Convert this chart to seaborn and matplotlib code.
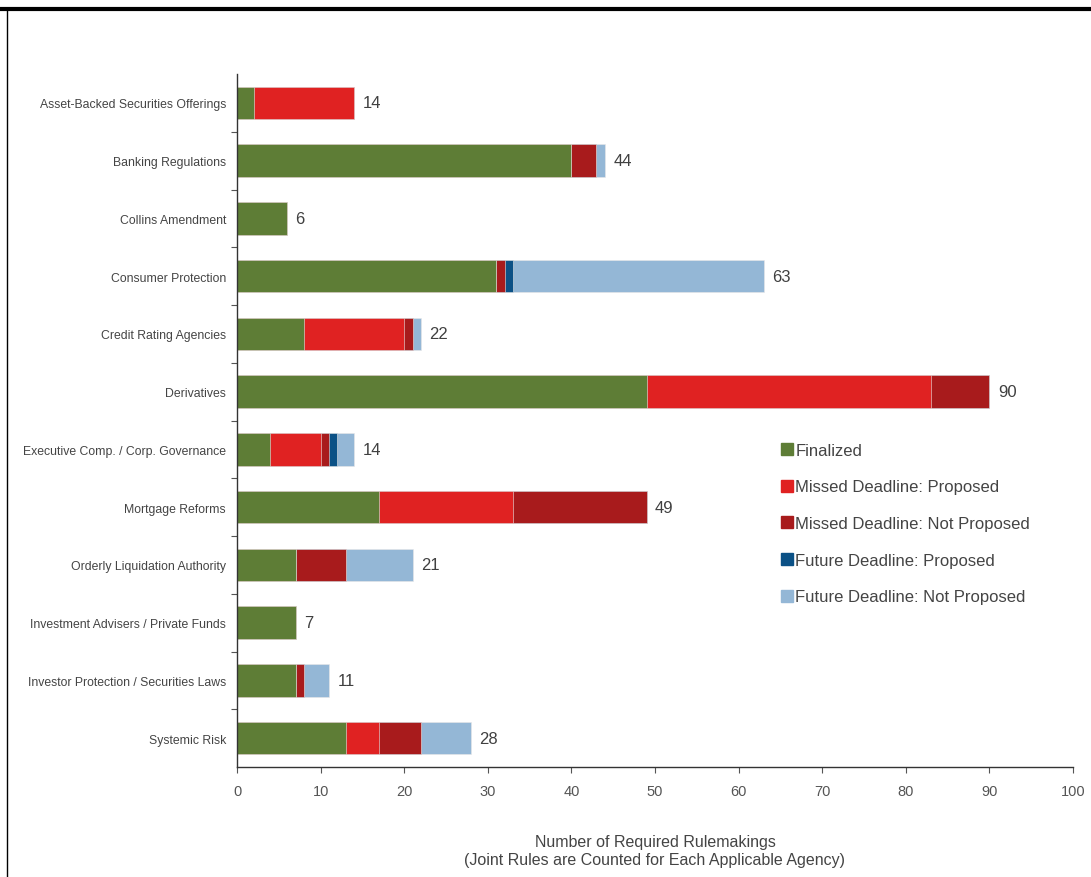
import matplotlib
matplotlib.use("Agg")
import matplotlib.pyplot as plt
import seaborn as sns
import numpy as np
import pandas as pd
from matplotlib.lines import Line2D

categories = [
    "Asset-Backed Securities Offerings",
    "Banking Regulations",
    "Collins Amendment",
    "Consumer Protection",
    "Credit Rating Agencies",
    "Derivatives",
    "Executive Comp. / Corp. Governance",
    "Mortgage Reforms",
    "Orderly Liquidation Authority",
    "Investment Advisers / Private Funds",
    "Investor Protection / Securities Laws",
    "Systemic Risk",
]
finalized          = [2, 40, 6, 31, 8, 49, 4, 17, 7, 7, 7, 13]
missed_proposed    = [12, 0, 0, 0, 12, 34, 6, 16, 0, 0, 0, 4]
missed_not_prop    = [0, 3, 0, 1, 1, 7, 1, 16, 6, 0, 1, 5]
future_proposed    = [0, 0, 0, 1, 0, 0, 1, 0, 0, 0, 0, 0]
future_not_prop    = [0, 1, 0, 30, 1, 0, 2, 0, 8, 0, 3, 6]
series_names = ["Finalized", "Missed Deadline: Proposed", "Missed Deadline: Not Proposed",
                "Future Deadline: Proposed", "Future Deadline: Not Proposed"]
colors = ["#5e7d36", "#e02222", "#a81b1c", "#0b5186", "#94b7d6"]

sns.set_theme(style="white")
plt.rcParams["font.family"] = ["Liberation Sans", "DejaVu Sans"]

fig = plt.figure(figsize=(10.91, 8.78), dpi=100)
ax = fig.add_axes([237/1091, 1 - 768/878, (1073-237)/1091, (768-75)/878])

data = np.array([finalized, missed_proposed, missed_not_prop, future_proposed, future_not_prop])
cum = np.cumsum(data, axis=0)
for i in range(4, -1, -1):
    df = pd.DataFrame({"cat": categories, "val": cum[i]})
    sns.barplot(data=df, x="val", y="cat", color=colors[i], width=0.56,
                saturation=1, ax=ax, orient="h", linewidth=0.4, edgecolor="#e8e8e8")

totals = cum[-1]
for j, t in enumerate(totals):
    ax.text(t + 1.0, j, f"{t}", va="center", ha="left", fontsize=12, color="#404040")

ax.set_xlim(0, 100)
ax.set_ylim(11.5, -0.5)
ax.set_xticks(np.arange(0, 101, 10))
ax.set_xticklabels([str(v) for v in range(0, 101, 10)], fontsize=10.5, color="#555555")
ax.set_yticks(range(len(categories)))
ax.set_yticklabels(categories, fontsize=8.8, color="#444444")
ax.set_yticks(np.arange(0.5, 11.5, 1), minor=True)
ax.tick_params(axis="y", which="major", length=0, pad=8)
ax.tick_params(axis="y", which="minor", length=4, direction="out", color="#555555", width=0.8, left=True)
ax.tick_params(axis="x", which="major", length=4, direction="out", color="#555555", width=0.8, bottom=True, pad=8)
ax.set_ylabel("")
ax.set_xlabel("Number of Required Rulemakings\n(Joint Rules are Counted for Each Applicable Agency)",
              fontsize=11.5, color="#444444", labelpad=26, linespacing=1.25)
for s in ["top", "right"]:
    ax.spines[s].set_visible(False)
for s in ["left", "bottom"]:
    ax.spines[s].set_color("#333333")
    ax.spines[s].set_linewidth(1.0)

handles = [Line2D([0], [0], marker="s", linestyle="", markersize=8, markerfacecolor=c,
                  markeredgecolor=c) for c in colors]
leg = fig.legend(handles, series_names, loc="upper left", bbox_to_anchor=(772/1091, 1 - 437/878),
                 frameon=False, fontsize=12, handletextpad=0.0, labelspacing=1.3,
                 handlelength=1.0, borderaxespad=0)
for txt in leg.get_texts():
    txt.set_color("#444444")

# figure frame lines (top thick, left thin)
fig.add_artist(Line2D([0, 1], [1 - 10/878, 1 - 10/878], color="black", linewidth=3, transform=fig.transFigure))
fig.add_artist(Line2D([7/1091, 7/1091], [0, 1 - 10/878], color="black", linewidth=1, transform=fig.transFigure))

fig.savefig("out.png", dpi=100)
